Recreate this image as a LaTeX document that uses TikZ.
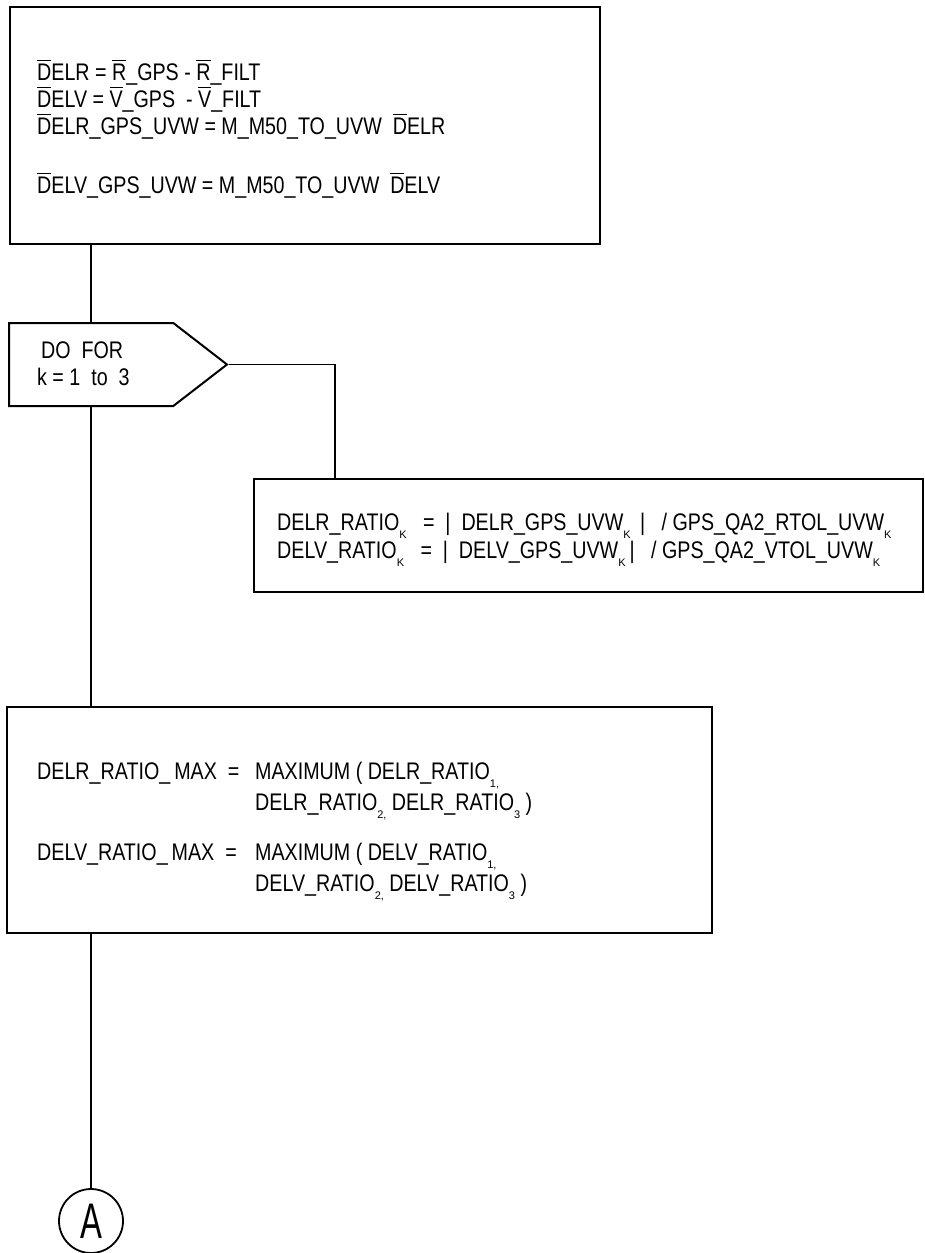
\documentclass[tikz,border=0pt]{standalone}
\usepackage{amsmath}
\usepackage{fontspec}
\setmainfont{Liberation Sans}[FakeStretch=0.82]
\newfontfamily\subfont{Liberation Sans}
\usepackage{tikz}
\usetikzlibrary{shapes.symbols,calc}
\newcommand{\ovl}[1]{$\overline{\mbox{#1}}$}
\newcommand{\sub}[1]{\raisebox{-8pt}{\subfont\fontsize{11}{11}\selectfont #1}}
\tikzset{
  flowbox/.style={draw,line width=2pt,anchor=north west,inner sep=0pt},
  eqtext/.style={anchor=base west,align=left,inner sep=0pt,font=\fontsize{24}{27}\selectfont},
  flowline/.style={line width=1.8pt}
}
\begin{document}
\begin{tikzpicture}[x=1pt,y=-1pt]
  \useasboundingbox (0,0) rectangle (924,1253);
  \coordinate (spine) at (91,0);
  \coordinate (branch) at (335,0);
  \node[flowbox,minimum width=590,minimum height=237] (delta) at (9,6) {};
  \node[eqtext] (deltatxt) at (37,193) {\ovl{D}ELR = \ovl{R}\_GPS - \ovl{R}\_FILT\\
    \ovl{D}ELV = \ovl{V}\_GPS \ - \ovl{V}\_FILT\\
    \ovl{D}ELR\_GPS\_UVW = M\_M50\_TO\_UVW \ \ovl{D}ELR\\[32pt]
    \ovl{D}ELV\_GPS\_UVW = M\_M50\_TO\_UVW \ \ovl{D}ELV};
  \node[flowbox,shape=signal,signal to=east,signal pointer angle=75.4,
    minimum width=218,minimum height=83] (loop) at (8,322) {};
  \node[eqtext] (looptxt) at (37,385) {\hspace{4pt}DO \ FOR\\k = 1 \ to \ 3};
  \node[flowbox,minimum width=669,minimum height=113] (ratio) at (253,478) {};
  \node[eqtext,font=\fontsize{24}{28}\selectfont] (ratiotxt) at (277,558)
    {DELR\_RATIO\sub{K} \ \ = \ | \ DELR\_GPS\_UVW\sub{K} \,| \ \ / GPS\_QA2\_RTOL\_UVW\sub{K}\\
     DELV\_RATIO\sub{K} \ \ = \ | \ DELV\_GPS\_UVW\sub{K}\,| \ \ / GPS\_QA2\_VTOL\_UVW\sub{K}};
  \node[flowbox,minimum width=705,minimum height=226] (maxbox) at (6,706) {};
  \node[eqtext,font=\fontsize{24}{31}\selectfont] (maxtxt) at (37,891)
    {\makebox[218pt][l]{DELR\_RATIO\_\,MAX \ =}MAXIMUM ( DELR\_RATIO\sub{1,}\\
     \hspace{218pt}DELR\_RATIO\sub{2,} DELR\_RATIO\sub{3} )\\[19pt]
     \makebox[218pt][l]{DELV\_RATIO\_\,MAX \ =}MAXIMUM ( DELV\_RATIO\sub{1,}\\
     \hspace{218pt}DELV\_RATIO\sub{2,} DELV\_RATIO\sub{3} )};
  \node[draw,circle,line width=1.8pt,minimum size=64,inner sep=0pt,
    font=\fontsize{40}{40}\selectfont] (conA) at (91,1221) {\scalebox{1}[1.25]{A}};
  \draw[flowline] (delta.south -| spine) -- (loop.north -| spine);
  \draw[flowline] (loop.east) -| (ratio.north -| branch);
  \draw[flowline] (loop.south -| spine) -- (maxbox.north -| spine);
  \draw[flowline] (maxbox.south -| spine) -- (conA.north);
\end{tikzpicture}
\end{document}
